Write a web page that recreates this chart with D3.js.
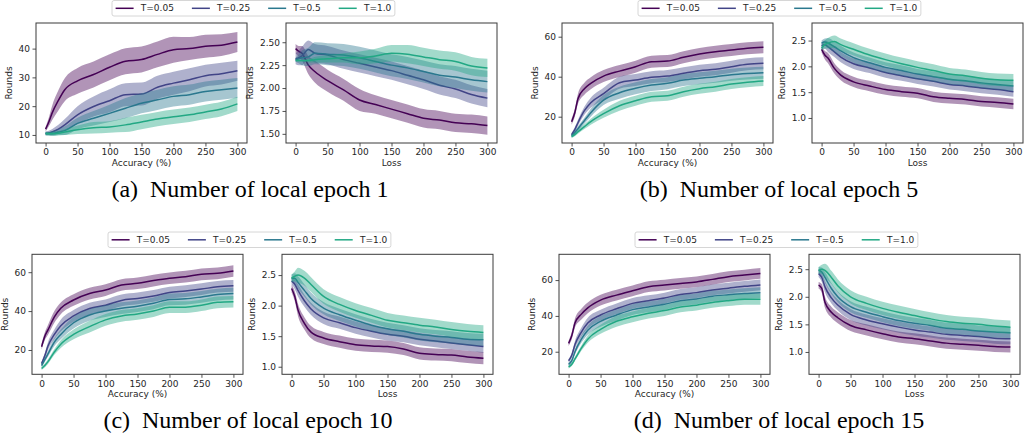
<!DOCTYPE html>
<html>
<head>
<meta charset="utf-8">
<script src="https://cdn.jsdelivr.net/npm/d3@7"></script>
<style>
  body { margin: 0; background: #fff; }
  svg { display: block; }
  .tick text, .lab, .leg { font-family: "DejaVu Sans", sans-serif; fill: #262626; }
  .cap { font-family: "Liberation Serif", "Times New Roman", serif; fill: #000; white-space: pre; }
</style>
</head>
<body>
<script>
const epochs = [0, 5, 10, 20, 30, 50, 75, 100, 125, 150, 175, 200, 225, 250, 275, 300];
const seriesNames = ['T=0.05', 'T=0.25', 'T=0.5', 'T=1.0'];
const colors = ['#440154', '#414487', '#2a788e', '#22a884'];
const xTicks = [0, 50, 100, 150, 200, 250, 300];
const captions = ['(a)  Number of local epoch 1', '(b)  Number of local epoch 5', '(c)  Number of local epoch 10', '(d)  Number of local epoch 15'];

// mean curves, one row per T
const accEpoch1 = [
  [12, 14.5, 17.5, 22, 25.7, 28.8, 31, 33.5, 35.6, 36.2, 38, 39.6, 40, 40.8, 41.2, 42.3],
  [10.5, 10.7, 11, 12, 13.5, 17, 19.9, 21.9, 24, 24.2, 26.6, 28, 29.2, 30.6, 31.3, 32.3],
  [10.5, 10.5, 10.5, 11, 11.5, 14, 15.8, 17.5, 19.3, 21, 22.2, 23.4, 24, 25.1, 25.7, 26.3],
  [10.5, 10.4, 10.4, 10.6, 11, 11.8, 12.5, 12.8, 13.5, 14.5, 15.5, 16.3, 17, 18, 19, 20.8]
];
const lossEpoch1 = [
  [2.43, 2.40, 2.38, 2.25, 2.18, 2.08, 1.98, 1.87, 1.82, 1.77, 1.72, 1.67, 1.65, 1.62, 1.61, 1.59],
  [2.32, 2.33, 2.35, 2.42, 2.38, 2.36, 2.31, 2.27, 2.23, 2.19, 2.14, 2.09, 2.03, 1.99, 1.93, 1.89],
  [2.31, 2.32, 2.33, 2.34, 2.38, 2.37, 2.36, 2.33, 2.29, 2.25, 2.22, 2.18, 2.14, 2.12, 2.09, 2.07],
  [2.30, 2.30, 2.30, 2.30, 2.31, 2.32, 2.33, 2.33, 2.35, 2.38, 2.37, 2.34, 2.31, 2.29, 2.24, 2.22]
];
const accEpoch5 = [
  [17.5, 22, 29, 34, 36.7, 40.3, 42.8, 45, 47.5, 47.8, 49.7, 51.3, 52.5, 53.3, 54.2, 54.7],
  [11, 13.5, 17, 23, 27, 31.5, 37, 38.3, 39.7, 40.3, 41.7, 43, 43.7, 45, 46.2, 46.7],
  [10.5, 12, 14, 18, 22, 28.3, 32, 34.2, 35.8, 36.7, 38.3, 39.2, 40, 41, 41.6, 42],
  [10, 11, 12.5, 15, 17.5, 21.5, 25.5, 28, 30, 30.5, 32.5, 34, 35, 36.3, 37.2, 37.8]
];
const lossEpoch5 = [
  [2.33, 2.22, 2.16, 1.96, 1.83, 1.70, 1.62, 1.55, 1.51, 1.48, 1.41, 1.38, 1.36, 1.32, 1.30, 1.27],
  [2.40, 2.42, 2.38, 2.28, 2.18, 2.05, 1.97, 1.88, 1.82, 1.76, 1.71, 1.65, 1.62, 1.58, 1.55, 1.51],
  [2.45, 2.47, 2.45, 2.38, 2.30, 2.17, 2.07, 1.98, 1.92, 1.85, 1.80, 1.75, 1.72, 1.68, 1.65, 1.62],
  [2.35, 2.42, 2.45, 2.48, 2.42, 2.33, 2.22, 2.13, 2.05, 1.98, 1.92, 1.85, 1.82, 1.77, 1.74, 1.73]
];
const accEpoch10 = [
  [21.7, 27, 30.3, 37, 41.4, 45.7, 49, 50.8, 53.4, 54.3, 55.7, 56.9, 57.7, 58.9, 59.4, 60.6],
  [13, 17, 22, 28, 32.5, 37.5, 41.3, 43, 45.5, 46.5, 47.8, 49.5, 50.3, 51.3, 52.5, 53],
  [12, 15, 18, 24, 28, 34, 38, 40, 41.5, 42.5, 44, 46, 46.3, 47.3, 48.5, 49],
  [10.5, 12, 14, 19, 23, 28, 32, 35.5, 37.5, 38.5, 40, 42, 42, 43, 44.5, 44.8]
];
const lossEpoch10 = [
  [2.28, 2.15, 1.93, 1.71, 1.57, 1.47, 1.41, 1.36, 1.34, 1.33, 1.29, 1.22, 1.20, 1.19, 1.16, 1.14],
  [2.40, 2.35, 2.25, 2.08, 1.95, 1.80, 1.72, 1.64, 1.58, 1.53, 1.50, 1.45, 1.42, 1.39, 1.36, 1.33],
  [2.45, 2.45, 2.38, 2.25, 2.12, 1.96, 1.85, 1.76, 1.68, 1.62, 1.58, 1.53, 1.50, 1.48, 1.45, 1.44],
  [2.45, 2.48, 2.50, 2.45, 2.35, 2.15, 2.02, 1.92, 1.84, 1.76, 1.72, 1.68, 1.65, 1.61, 1.58, 1.56]
];
const accEpoch15 = [
  [24.7, 29, 36, 41, 44.5, 48.8, 51.6, 54, 56.3, 57.2, 58.1, 59, 60.4, 61.9, 62.8, 63.7],
  [15, 18, 24, 31, 36, 40.5, 44, 47, 48.5, 50, 52, 53, 54.5, 55.5, 56.5, 57.3],
  [13, 15, 20, 27, 32, 37, 40.5, 43.5, 45, 46.5, 48.5, 49.5, 51, 51.8, 52.5, 53],
  [11.5, 13, 16, 22, 27, 32.5, 37, 39.5, 41.5, 43, 45, 46, 47.5, 48.5, 49.3, 49.3]
];
const lossEpoch15 = [
  [2.21, 2.15, 1.90, 1.72, 1.62, 1.48, 1.40, 1.33, 1.27, 1.24, 1.20, 1.16, 1.14, 1.12, 1.10, 1.09],
  [2.42, 2.35, 2.18, 1.98, 1.85, 1.68, 1.58, 1.51, 1.45, 1.40, 1.36, 1.32, 1.30, 1.28, 1.25, 1.24],
  [2.48, 2.45, 2.35, 2.15, 2.00, 1.82, 1.72, 1.64, 1.57, 1.52, 1.48, 1.43, 1.41, 1.38, 1.36, 1.35],
  [2.48, 2.50, 2.48, 2.35, 2.20, 2.00, 1.88, 1.79, 1.72, 1.66, 1.60, 1.55, 1.52, 1.50, 1.47, 1.45]
];

// half-width of the shaded band around each mean curve
const accSpread1 = [
  [0.8, 1.5, 2.5, 3.5, 4, 4.5, 4.5, 4.5, 4.5, 4.5, 4.5, 4.5, 4, 4, 3.8, 3.5],
  [0.6, 0.8, 1, 1.5, 2, 3, 3.5, 4, 4, 4, 4, 4, 4, 3.8, 3.8, 3.5],
  [0.6, 0.6, 0.8, 1, 1.5, 2, 2.5, 3, 3.5, 3.5, 3.5, 3.5, 3.5, 3.5, 3.5, 3.5],
  [0.6, 0.6, 0.7, 0.8, 1, 1.5, 2, 2, 2.5, 2.5, 2.5, 2.5, 2.5, 2.5, 2.5, 2.5]
];
const lossSpread1 = [
  [0.05, 0.06, 0.08, 0.1, 0.12, 0.12, 0.12, 0.12, 0.1, 0.1, 0.1, 0.1, 0.1, 0.1, 0.1, 0.1],
  [0.06, 0.08, 0.1, 0.1, 0.1, 0.1, 0.1, 0.1, 0.1, 0.1, 0.1, 0.1, 0.1, 0.1, 0.1, 0.1],
  [0.02, 0.05, 0.08, 0.1, 0.12, 0.12, 0.12, 0.12, 0.12, 0.12, 0.12, 0.12, 0.12, 0.12, 0.12, 0.12],
  [0.01, 0.01, 0.01, 0.02, 0.03, 0.04, 0.05, 0.07, 0.08, 0.09, 0.1, 0.1, 0.1, 0.1, 0.1, 0.1]
];
const accSpread5 = [
  [1.5, 2, 2.5, 3, 3, 3, 3, 3, 3, 3, 3, 3, 3, 3, 3, 3],
  [1, 1.2, 1.5, 2, 2.5, 3, 3, 3, 3, 3, 3, 3, 3, 3, 3, 3],
  [0.8, 1, 1.2, 1.5, 2, 2.5, 3, 3, 3, 3, 3, 3, 3, 3, 3, 3],
  [0.8, 0.8, 1, 1.2, 1.5, 2, 2.5, 2.5, 2.5, 2.5, 2.5, 2.5, 2.5, 2.5, 2.5, 2.5]
];
const lossSpread5 = [
  [0.06, 0.08, 0.1, 0.1, 0.1, 0.1, 0.1, 0.1, 0.1, 0.1, 0.1, 0.1, 0.1, 0.1, 0.1, 0.1],
  [0.06, 0.08, 0.1, 0.1, 0.1, 0.1, 0.1, 0.1, 0.1, 0.1, 0.1, 0.1, 0.1, 0.1, 0.1, 0.1],
  [0.05, 0.07, 0.1, 0.1, 0.1, 0.1, 0.1, 0.1, 0.1, 0.1, 0.1, 0.1, 0.1, 0.1, 0.1, 0.1],
  [0.05, 0.08, 0.1, 0.12, 0.12, 0.12, 0.12, 0.12, 0.12, 0.12, 0.12, 0.12, 0.12, 0.12, 0.12, 0.12]
];
const accSpread10 = [
  [1.5, 2, 2.5, 3, 3, 3, 3, 3, 3, 3, 3, 3, 3, 3, 3, 3],
  [1, 1.5, 2, 2.5, 3, 3, 3, 3, 3, 3, 3, 3, 3, 3, 3, 3],
  [1, 1.2, 1.5, 2, 2.5, 3, 3, 3, 3, 3, 3, 3, 3, 3, 3, 3],
  [0.8, 1, 1.2, 1.5, 2, 2.5, 3, 3, 3, 3, 3, 3, 3, 3, 3, 3]
];
const lossSpread10 = [
  [0.06, 0.08, 0.1, 0.1, 0.1, 0.1, 0.1, 0.1, 0.1, 0.1, 0.1, 0.1, 0.1, 0.1, 0.1, 0.1],
  [0.06, 0.08, 0.1, 0.1, 0.1, 0.1, 0.1, 0.1, 0.1, 0.1, 0.1, 0.1, 0.1, 0.1, 0.1, 0.1],
  [0.06, 0.08, 0.1, 0.1, 0.1, 0.1, 0.1, 0.1, 0.1, 0.1, 0.1, 0.1, 0.1, 0.1, 0.1, 0.1],
  [0.06, 0.08, 0.12, 0.12, 0.12, 0.12, 0.12, 0.12, 0.12, 0.12, 0.12, 0.12, 0.12, 0.12, 0.12, 0.12]
];
const accSpread15 = [
  [1.5, 2, 2.5, 3, 3, 3, 3, 3, 3, 3, 3, 3, 3, 3, 3, 3],
  [1, 1.5, 2, 2.5, 3, 3, 3, 3, 3, 3, 3, 3, 3, 3, 3, 3],
  [1, 1.2, 1.5, 2, 2.5, 3, 3, 3, 3, 3, 3, 3, 3, 3, 3, 3],
  [0.8, 1, 1.2, 1.5, 2, 2.5, 3, 3, 3, 3, 3, 3, 3, 3, 3, 3]
];
const lossSpread15 = [
  [0.06, 0.08, 0.1, 0.1, 0.1, 0.1, 0.1, 0.1, 0.1, 0.1, 0.1, 0.1, 0.1, 0.1, 0.1, 0.1],
  [0.06, 0.08, 0.1, 0.1, 0.1, 0.1, 0.1, 0.1, 0.1, 0.1, 0.1, 0.1, 0.1, 0.1, 0.1, 0.1],
  [0.06, 0.08, 0.1, 0.1, 0.1, 0.1, 0.1, 0.1, 0.1, 0.1, 0.1, 0.1, 0.1, 0.1, 0.1, 0.1],
  [0.06, 0.08, 0.12, 0.12, 0.12, 0.12, 0.12, 0.12, 0.12, 0.12, 0.12, 0.12, 0.12, 0.12, 0.12, 0.12]
];

// axis limits and ticks
const accLimits = [[7.2, 48.9], [6.85, 66.85], [7.5, 69.2], [7.4, 74.4]];
const lossLimits = [[1.40, 2.71], [0.515, 2.84], [0.876, 2.84], [0.595, 2.77]];
const accTicks = [[10, 20, 30, 40], [20, 40, 60], [20, 40, 60], [20, 40, 60]];
const lossTicks = [[1.50, 1.75, 2.00, 2.25, 2.50], [1.0, 1.5, 2.0, 2.5], [1.0, 1.5, 2.0, 2.5], [1.0, 1.5, 2.0, 2.5]];
const lossFormats = ['.2f', '.1f', '.1f', '.1f'];

const accMeans = [accEpoch1, accEpoch5, accEpoch10, accEpoch15];
const lossMeans = [lossEpoch1, lossEpoch5, lossEpoch10, lossEpoch15];
const accSpreads = [accSpread1, accSpread5, accSpread10, accSpread15];
const lossSpreads = [lossSpread1, lossSpread5, lossSpread10, lossSpread15];

// layout of the four panels
const W = 1025, H = 448;
const plotW = 211, plotH = 120;
const layout = [
  { left: 36, right: 286, top: 23, legendX: 112, legendY: 0.5, capX: 250, capY: 197 },
  { left: 562, right: 812, top: 23, legendX: 638, legendY: 0.5, capX: 779, capY: 197 },
  { left: 32, right: 282, top: 254.3, legendX: 108, legendY: 232, capX: 248, capY: 428 },
  { left: 559, right: 809, top: 254.3, legendX: 635, legendY: 232, capX: 779, capY: 428 }
];

const svg = d3.select('body').append('svg').attr('width', W).attr('height', H);

const drawPlot = (g, opts) => {
  const x = d3.scaleLinear().domain([-15, 315]).range([0, plotW]);
  const y = d3.scaleLinear().domain(opts.limits).range([plotH, 0]);
  const clipId = 'clip' + opts.id;
  g.append('clipPath').attr('id', clipId).append('rect').attr('width', plotW).attr('height', plotH);
  const body = g.append('g').attr('clip-path', `url(#${clipId})`);

  opts.means.forEach((mean, s) => {
    const pts = epochs.map((e, i) => ({ e, m: mean[i], w: opts.spreads[s][i] }));
    const area = d3.area().curve(d3.curveMonotoneX)
      .x(d => x(d.e)).y0(d => y(d.m - d.w)).y1(d => y(d.m + d.w));
    const line = d3.line().curve(d3.curveMonotoneX).x(d => x(d.e)).y(d => y(d.m));
    body.append('path').attr('d', area(pts)).attr('fill', colors[s]).attr('fill-opacity', 0.42);
    body.append('path').attr('d', line(pts)).attr('fill', 'none').attr('stroke', colors[s]).attr('stroke-width', 1.5);
  });

  const xAxis = g.append('g').attr('transform', `translate(0,${plotH})`)
    .call(d3.axisBottom(x).tickValues(xTicks).tickSize(3.5).tickPadding(2.5));
  const yAxis = g.append('g')
    .call(d3.axisLeft(y).tickValues(opts.ticks).tickFormat(d3.format(opts.fmt)).tickSize(3.5).tickPadding(2.5));
  [xAxis, yAxis].forEach(a => {
    a.select('.domain').remove();
    a.selectAll('.tick line').attr('stroke', '#262626').attr('stroke-width', 0.8);
    a.selectAll('.tick text').attr('font-size', 9);
  });

  g.append('rect').attr('width', plotW).attr('height', plotH)
    .attr('fill', 'none').attr('stroke', '#3a3a3a').attr('stroke-width', 1);

  g.append('text').attr('class', 'lab').attr('x', plotW / 2).attr('y', plotH + 22.5)
    .attr('text-anchor', 'middle').attr('font-size', 9).text(opts.xLabel);

  const tickLeft = d3.min(yAxis.selectAll('.tick text').nodes(), n => n.getBBox().x) - 3.5;
  g.append('text').attr('class', 'lab')
    .attr('transform', `translate(${tickLeft - 3},${plotH / 2}) rotate(-90)`)
    .attr('text-anchor', 'middle').attr('font-size', 9).text('Rounds');
};

const drawLegend = (g) => {
  const fs = 9;
  const items = g.append('g');
  let cx = 0.4 * fs;
  seriesNames.forEach((name, i) => {
    items.append('line').attr('x1', cx).attr('x2', cx + 2 * fs).attr('y1', 7.8).attr('y2', 7.8)
      .attr('stroke', colors[i]).attr('stroke-width', 1.5);
    const t = items.append('text').attr('class', 'leg').attr('x', cx + 2.8 * fs).attr('y', 7.8)
      .attr('dy', '0.35em').attr('font-size', fs).text(name);
    cx += 2.8 * fs + t.node().getComputedTextLength() + 2 * fs;
  });
  const boxW = cx - 2 * fs + 0.4 * fs;
  g.insert('rect', ':first-child').attr('width', boxW).attr('height', 15.5).attr('rx', 2)
    .attr('fill', '#fff').attr('fill-opacity', 0.8).attr('stroke', '#cccccc').attr('stroke-width', 0.8);
};

layout.forEach((p, k) => {
  drawPlot(svg.append('g').attr('transform', `translate(${p.left},${p.top})`), {
    id: 'a' + k, limits: accLimits[k], ticks: accTicks[k], fmt: 'd',
    means: accMeans[k], spreads: accSpreads[k], xLabel: 'Accuracy (%)'
  });
  drawPlot(svg.append('g').attr('transform', `translate(${p.right},${p.top})`), {
    id: 'l' + k, limits: lossLimits[k], ticks: lossTicks[k], fmt: lossFormats[k],
    means: lossMeans[k], spreads: lossSpreads[k], xLabel: 'Loss'
  });
  drawLegend(svg.append('g').attr('transform', `translate(${p.legendX},${p.legendY})`));
  svg.append('text').attr('class', 'cap').attr('x', p.capX).attr('y', p.capY)
    .attr('text-anchor', 'middle').attr('font-size', 24).text(captions[k]);
});
</script>
</body>
</html>
